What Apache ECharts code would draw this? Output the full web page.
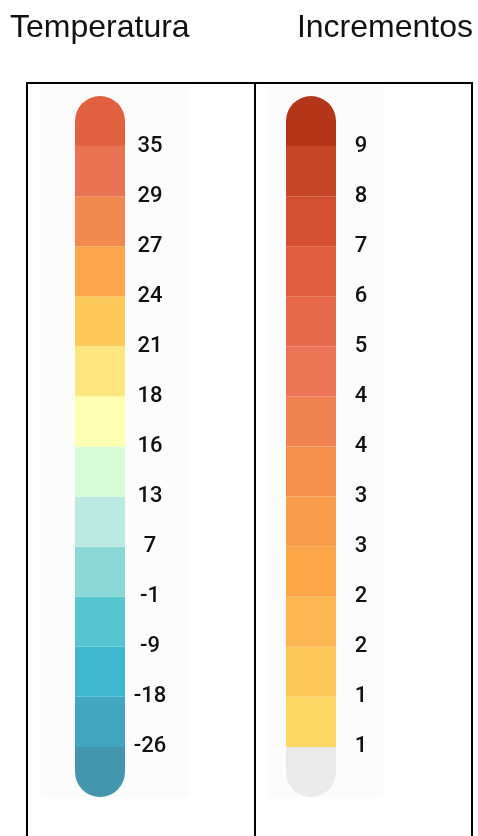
<!DOCTYPE html>
<html><head><meta charset="utf-8">
<script src="https://cdn.jsdelivr.net/npm/echarts@6/dist/echarts.min.js"></script>
<style>html,body{margin:0;padding:0;background:#fff}#c{width:478px;height:836px}</style>
</head><body><div id="c"></div>
<script>
const titles = ['Temperatura', 'Incrementos'];
// labels at the band boundaries, top to bottom
const tempLabels = ['35','29','27','24','21','18','16','13','7','-1','-9','-18','-26'];
const incLabels = ['9','8','7','6','5','4','4','3','3','2','2','1','1'];
// band colours, top to bottom
const tempColors = ['#e0603f','#ea7254','#f28a4f','#fba64b','#fdc95b','#ffe77f','#ffffb2',
                    '#d8fdd6','#bce8e2','#8bd8d8','#55c5cf','#40b7ce','#41a6c0','#4297ae'];
const incColors = ['#b3361a','#c54527','#d34f30','#e05e3d','#e4684a','#eb7556','#f0824f',
                   '#f48f4e','#f89d4c','#fca64a','#fcb653','#fdc65a','#fed866','#eaeaea'];
// each band has the same height in the scale
const tempBands = [1,1,1,1,1,1,1,1,1,1,1,1,1,1];
const incBands = [1,1,1,1,1,1,1,1,1,1,1,1,1,1];

const panels = [
  {labels: tempLabels, colors: tempColors, bands: tempBands, left: 75},
  {labels: incLabels, colors: incColors, bands: incBands, left: 286}
];

const grid = [], xAxis = [], yAxis = [], series = [];
panels.forEach((p, g) => {
  const n = p.colors.length;
  grid.push({left: p.left, width: 50, top: 96, height: 701});
  xAxis.push({type: 'category', gridIndex: g, data: [''], show: false});
  yAxis.push({
    type: 'value', gridIndex: g, min: 0, max: n, interval: 1, position: 'right',
    axisLine: {show: false}, axisTick: {show: false}, splitLine: {show: false},
    axisLabel: {
      margin: 25, align: 'center', fontFamily: 'Roboto', fontWeight: 500, fontSize: 22, color: '#111',
      padding: [7, 0, 0, 0],
      formatter: v => (v >= 1 && v <= n - 1) ? p.labels[n - 1 - v] : ''
    }
  });
  for (let i = 0; i < n; i++) {            // i = 0 is the bottom band
    const topIdx = n - 1 - i;
    let radius = 0;
    if (i === 0) radius = [0, 0, 25, 25];
    if (i === n - 1) radius = [25, 25, 0, 0];
    series.push({
      type: 'bar', xAxisIndex: g, yAxisIndex: g, stack: 's' + g, barWidth: '100%',
      data: [p.bands[topIdx]],
      itemStyle: {color: p.colors[topIdx], borderRadius: radius},
      emphasis: {disabled: true}, silent: true
    });
  }
});

const chart = echarts.init(document.getElementById('c'));
chart.setOption({
  animation: false,
  grid, xAxis, yAxis, series,
  graphic: [
    {type: 'rect', z: -10, shape: {x: 41, y: 85, width: 148, height: 712}, style: {fill: '#fcfcfc'}},
    {type: 'rect', z: -10, shape: {x: 268, y: 85, width: 115, height: 712}, style: {fill: '#fcfcfc'}},
    {type: 'rect', z: 10, shape: {x: 27, y: 83, width: 445, height: 820}, style: {fill: 'none', stroke: '#000', lineWidth: 2}},
    {type: 'line', z: 10, shape: {x1: 255, y1: 83, x2: 255, y2: 900}, style: {stroke: '#000', lineWidth: 2}},
    {type: 'text', x: 10, y: 28.5, style: {text: titles[0], fontFamily: 'Liberation Sans', fontSize: 32, fill: '#111', align: 'left', verticalAlign: 'middle'}},
    {type: 'text', x: 473, y: 28.5, style: {text: titles[1], fontFamily: 'Liberation Sans', fontSize: 32, fill: '#111', align: 'right', verticalAlign: 'middle'}}
  ]
});
</script></body></html>
